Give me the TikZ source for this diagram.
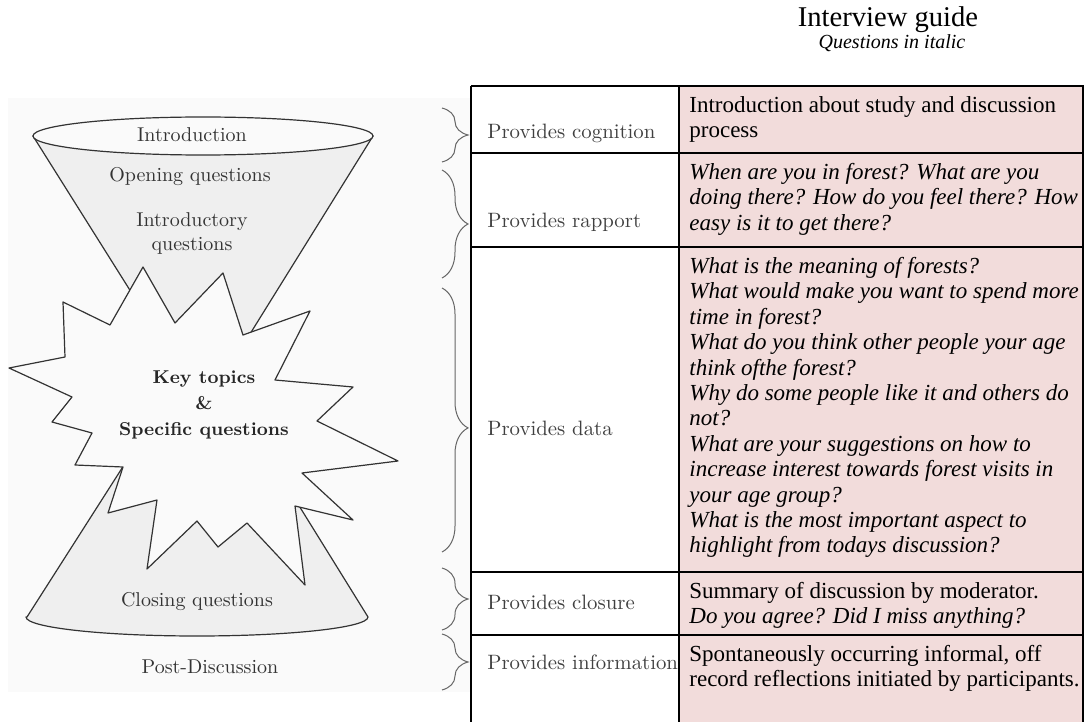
\documentclass[tikz,border=0pt]{standalone}
\usepackage{fontspec}
\newfontfamily\tabfont{Liberation Serif}
\usepackage{tikz}
\usetikzlibrary{positioning,decorations.pathreplacing}

\definecolor{cellpink}{HTML}{F2DCDB}
\definecolor{conegray}{HTML}{EFEFEF}
\definecolor{panelbg}{HTML}{FAFAFA}

\begin{document}
\begin{tikzpicture}[x=0.5pt,y=-0.5pt,
  figlabel/.style={font=\fontsize{10}{12}\selectfont,text=black!80,align=center},
  keylabel/.style={font=\fontsize{9.3}{13}\selectfont\bfseries,text=black!85,align=center},
  rolelabel/.style={font=\fontsize{10.4}{12}\selectfont,text=black!75,anchor=west,inner sep=0pt},
  celltext/.style={font=\tabfont\fontsize{11.5}{12.7}\selectfont,align=left,anchor=north west,inner sep=0pt},
  questions/.style={celltext,font=\tabfont\itshape\fontsize{11.5}{12.7}\selectfont},
  shapeline/.style={draw=black!80,line width=0.6pt,line join=round},
  curly/.style={draw=black!60,line width=0.5pt,decorate,decoration={brace,amplitude=13pt}},
  tabline/.style={draw=black,line width=1.3pt}
]
\useasboundingbox (0,0) rectangle (1089,722);
\fill[panelbg] (8,98) rectangle (470,692);

% funnel: top cone, bottom cone, star
\filldraw[shapeline,fill=conegray] (33,136) -- (204,408) -- (373,136) -- cycle;
\filldraw[shapeline,fill=panelbg] (203,136) ellipse [x radius=85pt,y radius=9.5pt];
\filldraw[shapeline,fill=conegray] (27,617) -- (200,346) -- (368,617)
  arc[start angle=0,end angle=-180,x radius=85.5pt,y radius=9.5pt] -- cycle;
\filldraw[shapeline,fill=panelbg] (143,267) -- (175,323) -- (223,273) -- (243,335)
  -- (310,311) -- (275,380) -- (353,387) -- (317,421) -- (398,461) -- (302,473)
  -- (353,520) -- (295,506) -- (305,585) -- (247,523) -- (218,547) -- (197,521)
  -- (147,569) -- (157,500) -- (108,513) -- (123,467) -- (75,465) -- (92,433)
  -- (52,422) -- (72,397) -- (9,368) -- (65,357) -- (63,302) -- (110,325) -- cycle;

\node[figlabel] (intro) at (192,135) {Introduction};
\node[figlabel] (opening) at (190,177) {Opening questions};
\node[figlabel] (introductory) at (192,233) {Introductory\\questions};
\node[keylabel] (key) at (204,405) {Key topics\\\&\\Specific questions};
\node[figlabel] (closing) at (197,602) {Closing questions};
\node[figlabel] (post) at (210,667) {Post-Discussion};

% braces
\draw[curly] (442,108) -- (442,162);
\draw[curly] (442,170) -- (442,278);
\draw[curly,decoration={aspect=0.53}] (442,288) -- (442,552);
\draw[curly] (442,568) -- (442,630);
\draw[curly] (442,634) -- (442,690);

% table
\fill[cellpink] (679,86) rectangle (1083,722);
\foreach \y in {86,153,247,572,635}
  \draw[tabline] (471,\y) -- (1084,\y);
\foreach \x in {471,679,1083}
  \draw[tabline] (\x,86) -- (\x,722);

\node[rolelabel] (cognition) at (487,133) {Provides cognition};
\node[rolelabel] (rapport) at (487,222) {Provides rapport};
\node[rolelabel] (data) at (487,428) {Provides data};
\node[rolelabel] (closure) at (487,602) {Provides closure};
\node[rolelabel] (information) at (487,662) {Provides information};

\node[celltext] (cognitiontext) at (689,96) {Introduction about study and discussion\\process};
\node[questions] (rapporttext) at (689,163)
  {When are you in forest? What are you\\doing there? How do you feel there? How\\easy is it to get there?};
\node[questions] (datatext) at (689,257)
  {What is the meaning of forests?\\What would make you want to spend more\\time in forest?\\
   What do you think other people your age\\think ofthe forest?\\Why do some people like it and others do\\not?\\
   What are your suggestions on how to\\increase interest towards forest visits in\\your age group?\\
   What is the most important aspect to\\highlight from todays discussion?};
\node[celltext] (closuretext) at (689,582)
  {Summary of discussion by moderator.\\\textit{Do you agree? Did I miss anything?}};
\node[celltext] (informationtext) at (689,645)
  {Spontaneously occurring informal, off\\record reflections initiated by participants.};

% header
\node[font=\tabfont\fontsize{14.3}{16}\selectfont] (guide) at (888,20) {Interview guide};
\node[font=\tabfont\itshape\fontsize{10}{12}\selectfont] (italicnote) at (892,43) {Questions in italic};
\end{tikzpicture}
\end{document}
